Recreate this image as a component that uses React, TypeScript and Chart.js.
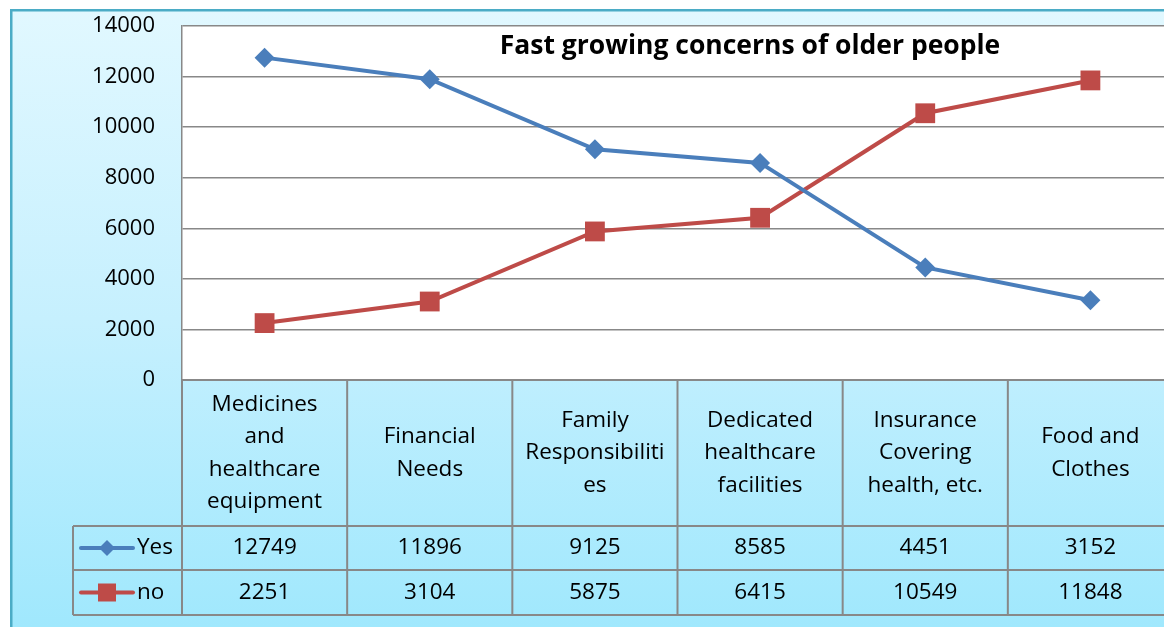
import React, { useEffect, useRef } from "react";
import { Chart, registerables } from "chart.js";

Chart.register(...registerables);

// ---- data ----
const categoryLines: string[][] = [
  ["Medicines", "and", "healthcare", "equipment"],
  ["Financial", "Needs"],
  ["Family", "Responsibiliti", "es"],
  ["Dedicated", "healthcare", "facilities"],
  ["Insurance", "Covering", "health, etc."],
  ["Food and", "Clothes"],
];
const yesValues = [12749, 11896, 9125, 8585, 4451, 3152];
const noValues = [2251, 3104, 5875, 6415, 10549, 11848];
const seriesNames = ["Yes", "no"];
const yMin = 0;
const yMax = 14000;
const yStep = 2000;
const chartTitle = "Fast growing concerns of older people";

const BLUE = "#4a7ebb";
const RED = "#be4b48";
const GRID = "#888888";
const FONT = "'Open Sans', 'Liberation Sans', sans-serif";

const CANVAS_W = 1200;
const CANVAS_H = 627;

const decorPlugin = {
  id: "decor",
  beforeDraw(chart: any) {
    const { ctx, chartArea: ca, width, height } = chart;
    ctx.save();
    ctx.fillStyle = "#ffffff";
    ctx.fillRect(0, 0, width, height);
    const g = ctx.createLinearGradient(0, 10, 0, height);
    g.addColorStop(0, "#e1f8ff");
    g.addColorStop(0.5, "#c6f0fe");
    g.addColorStop(1, "#a0e8fd");
    ctx.fillStyle = g;
    ctx.fillRect(11, 10, width, height);
    ctx.strokeStyle = "#4bacc6";
    ctx.lineWidth = 2.5;
    ctx.beginPath();
    ctx.moveTo(11.25, height + 5);
    ctx.lineTo(11.25, 10.25);
    ctx.lineTo(width + 5, 10.25);
    ctx.stroke();
    ctx.fillStyle = "#ffffff";
    ctx.fillRect(ca.left, ca.top, ca.right - ca.left, ca.bottom - ca.top);
    ctx.restore();
  },
  afterDraw(chart: any) {
    const { ctx, chartArea: ca } = chart;
    const xs = chart.scales.x;
    const n = categoryLines.length;
    const colW = (ca.right - ca.left) / n;
    const headerTop = ca.bottom;
    const headerBottom = 526;
    const row1Bottom = 570;
    const row2Bottom = 615;
    const legendLeft = 73;
    ctx.save();
    // table lines
    ctx.strokeStyle = GRID;
    ctx.lineWidth = 2;
    ctx.beginPath();
    ctx.moveTo(ca.left, headerTop);
    ctx.lineTo(ca.right + 20, headerTop);
    [headerBottom, row1Bottom, row2Bottom].forEach((y) => {
      ctx.moveTo(legendLeft, y);
      ctx.lineTo(ca.right + 20, y);
    });
    ctx.moveTo(legendLeft, headerBottom);
    ctx.lineTo(legendLeft, row2Bottom);
    for (let i = 0; i <= n; i++) {
      const x = ca.left + i * colW;
      ctx.moveTo(x, headerTop);
      ctx.lineTo(x, row2Bottom);
    }
    ctx.stroke();

    // header text
    ctx.fillStyle = "#000";
    ctx.font = `22.5px ${FONT}`;
    ctx.textAlign = "center";
    ctx.textBaseline = "middle";
    const lh = 32.4;
    const hc = (headerTop + headerBottom) / 2;
    categoryLines.forEach((lines, i) => {
      const cx = xs.getPixelForValue(i);
      const start = hc - ((lines.length - 1) * lh) / 2;
      lines.forEach((t, j) => ctx.fillText(t, cx, start + j * lh));
    });
    // values
    const r1 = (headerBottom + row1Bottom) / 2;
    const r2 = (row1Bottom + row2Bottom) / 2;
    yesValues.forEach((v, i) => ctx.fillText(String(v), xs.getPixelForValue(i), r1));
    noValues.forEach((v, i) => ctx.fillText(String(v), xs.getPixelForValue(i), r2));

    // legend keys
    const drawKey = (y: number, color: string, shape: string, label: string) => {
      ctx.strokeStyle = color;
      ctx.lineWidth = 4;
      ctx.lineCap = "round";
      ctx.beginPath();
      ctx.moveTo(81, y);
      ctx.lineTo(133, y);
      ctx.stroke();
      ctx.fillStyle = color;
      ctx.beginPath();
      if (shape === "diamond") {
        ctx.moveTo(107, y - 8);
        ctx.lineTo(115, y);
        ctx.lineTo(107, y + 8);
        ctx.lineTo(99, y);
        ctx.closePath();
      } else {
        ctx.rect(98, y - 9, 18, 18);
      }
      ctx.fill();
      ctx.fillStyle = "#000";
      ctx.textAlign = "left";
      ctx.fillText(label, 137, y);
    };
    drawKey(r1, BLUE, "diamond", seriesNames[0]);
    drawKey(r2, RED, "square", seriesNames[1]);

    // title
    ctx.fillStyle = "#000";
    ctx.font = `bold 26.5px ${FONT}`;
    ctx.textAlign = "center";
    ctx.fillText(chartTitle, 750, 46);
    ctx.restore();
  },
};

export default function App() {
  const ref = useRef<HTMLCanvasElement | null>(null);
  useEffect(() => {
    if (!ref.current) return;
    const chart = new Chart(ref.current, {
      type: "line",
      data: {
        labels: categoryLines.map((l) => l.join(" ")),
        datasets: [
          {
            label: seriesNames[0],
            data: yesValues,
            borderColor: BLUE,
            backgroundColor: BLUE,
            borderWidth: 4,
            pointStyle: "rectRot",
            pointRadius: 10,
            pointBorderWidth: 0,
            tension: 0,
          },
          {
            label: seriesNames[1],
            data: noValues,
            borderColor: RED,
            backgroundColor: RED,
            borderWidth: 4,
            pointStyle: "rect",
            pointRadius: 14,
            pointBorderWidth: 0,
            tension: 0,
          },
        ],
      },
      options: {
        responsive: false,
        animation: false,
        devicePixelRatio: 1,
        layout: { padding: { left: 0, top: 26, right: CANVAS_W - 1173, bottom: CANVAS_H - 380 } },
        plugins: { legend: { display: false }, title: { display: false }, tooltip: { enabled: false } },
        scales: {
          x: { display: false, offset: true },
          y: {
            min: yMin,
            max: yMax,
            afterFit: (s: any) => {
              s.width = 182;
              s.paddingTop = 0;
              s.paddingBottom = 0;
            },
            ticks: {
              stepSize: yStep,
              color: "#000",
              font: { family: FONT, size: 22 },
              padding: 27,
              callback: (v: any) => String(v),
            },
            grid: { color: GRID, lineWidth: 1.5, drawTicks: false },
            border: { color: GRID, width: 1.5 },
          },
        },
      },
      plugins: [decorPlugin],
    });
    return () => chart.destroy();
  }, []);
  return (
    <div style={{ position: "fixed", left: 0, top: 0, width: 1164, height: 627, overflow: "hidden" }}>
      <canvas ref={ref} width={CANVAS_W} height={CANVAS_H} style={{ width: CANVAS_W, height: CANVAS_H, display: "block" }} />
    </div>
  );
}
